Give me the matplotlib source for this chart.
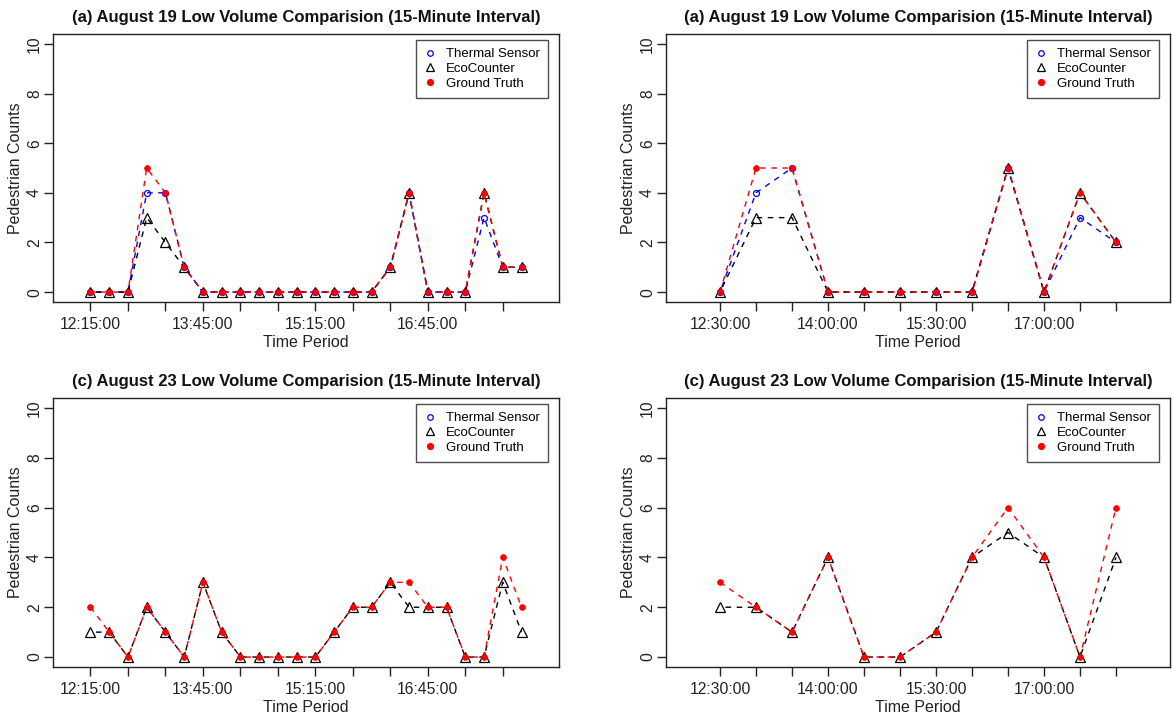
import matplotlib
matplotlib.use("Agg")
import matplotlib.pyplot as plt
from matplotlib.lines import Line2D

plt.rcParams['font.family'] = ['Liberation Sans', 'DejaVu Sans']

# ---------------- data ----------------
times_15min = ["12:15:00", "12:30:00", "12:45:00", "13:00:00", "13:15:00", "13:30:00",
               "13:45:00", "14:00:00", "14:15:00", "14:30:00", "14:45:00", "15:00:00",
               "15:15:00", "15:30:00", "15:45:00", "16:00:00", "16:15:00", "16:30:00",
               "16:45:00", "17:00:00", "17:15:00", "17:30:00", "17:45:00", "18:00:00"]
times_30min = ["12:30:00", "13:00:00", "13:30:00", "14:00:00", "14:30:00", "15:00:00",
               "15:30:00", "16:00:00", "16:30:00", "17:00:00", "17:30:00", "18:00:00"]

# (a) August 19, left panel
thermal_19a = [0, 0, 0, 4, 4, 1, 0, 0, 0, 0, 0, 0, 0, 0, 0, 0, 1, 4, 0, 0, 0, 3, 1, 1]
eco_19a     = [0, 0, 0, 3, 2, 1, 0, 0, 0, 0, 0, 0, 0, 0, 0, 0, 1, 4, 0, 0, 0, 4, 1, 1]
truth_19a   = [0, 0, 0, 5, 4, 1, 0, 0, 0, 0, 0, 0, 0, 0, 0, 0, 1, 4, 0, 0, 0, 4, 1, 1]

# (a) August 19, right panel
thermal_19b = [0, 4, 5, 0, 0, 0, 0, 0, 5, 0, 3, 2]
eco_19b     = [0, 3, 3, 0, 0, 0, 0, 0, 5, 0, 4, 2]
truth_19b   = [0, 5, 5, 0, 0, 0, 0, 0, 5, 0, 4, 2]

# (c) August 23, left panel (no thermal sensor values shown)
thermal_23a = []
eco_23a     = [1, 1, 0, 2, 1, 0, 3, 1, 0, 0, 0, 0, 0, 1, 2, 2, 3, 2, 2, 2, 0, 0, 3, 1]
truth_23a   = [2, 1, 0, 2, 1, 0, 3, 1, 0, 0, 0, 0, 0, 1, 2, 2, 3, 3, 2, 2, 0, 0, 4, 2]

# (c) August 23, right panel (no thermal sensor values shown)
thermal_23b = []
eco_23b     = [2, 2, 1, 4, 0, 0, 1, 4, 5, 4, 0, 4]
truth_23b   = [3, 2, 1, 4, 0, 0, 1, 4, 6, 4, 0, 6]

ticks_15min = ["12:15:00", "12:45:00", "13:15:00", "13:45:00", "14:15:00", "14:45:00",
               "15:15:00", "15:45:00", "16:15:00", "16:45:00", "17:15:00", "17:45:00"]
labels_15min = ["12:15:00", "13:45:00", "15:15:00", "16:45:00"]
ticks_30min = times_30min
labels_30min = ["12:30:00", "14:00:00", "15:30:00", "17:00:00"]

title_a = "(a) August 19 Low Volume Comparision (15-Minute Interval)"
title_c = "(c) August 23 Low Volume Comparision (15-Minute Interval)"
series_names = ["Thermal Sensor", "EcoCounter", "Ground Truth"]


def to_min(s):
    h, m, _ = s.split(":")
    return int(h) * 60 + int(m)


W, H = 1175, 717
fig = plt.figure(figsize=(W / 100, H / 100), dpi=100)


def add_ax(l, r, t, b):
    return fig.add_axes([l / W, 1 - b / H, (r - l) / W, (b - t) / H])


panels = [
    (add_ax(53, 559, 34, 302), times_15min, thermal_19a, eco_19a, truth_19a,
     ticks_15min, labels_15min, title_a, (705, 1110)),
    (add_ax(666, 1170, 34, 302), times_30min, thermal_19b, eco_19b, truth_19b,
     ticks_30min, labels_30min, title_a, (705, 1125)),
    (add_ax(53, 559, 398, 667), times_15min, thermal_23a, eco_23a, truth_23a,
     ticks_15min, labels_15min, title_c, (705, 1110)),
    (add_ax(666, 1170, 398, 667), times_30min, thermal_23b, eco_23b, truth_23b,
     ticks_30min, labels_30min, title_c, (705, 1125)),
]

dash_red = (0, (4.0, 4.0))
dash_other = (4.0, (4.0, 4.0))
for ax, times, th, eco, gt, ticks, labels, title, xl in panels:
    x = [to_min(t) for t in times]
    if len(th):
        ax.plot(x, th, color='blue', ls=dash_other, lw=1.0, marker='o', ms=4.3,
                mfc='none', mec='blue', mew=0.9, zorder=3)
    ax.plot(x, eco, color='black', ls=dash_other, lw=1.0, marker='^', ms=6.5,
            mfc='none', mec='black', mew=0.9, zorder=4)
    ax.plot(x, gt, color='red', ls=dash_red, lw=1.0, marker='o', ms=4.2,
            mfc='red', mec='red', mew=0.5, zorder=5)
    ax.set_xlim(*xl)
    ax.set_ylim(-0.4, 10.4)
    tx = [to_min(t) for t in ticks]
    ax.set_xticks(tx)
    ax.set_xticklabels([t if t in labels else "" for t in ticks])
    ax.set_yticks([0, 2, 4, 6, 8, 10])
    ax.tick_params(axis='both', direction='out', length=6.8, width=1.0,
                   labelsize=11.3, color='#222222', labelcolor='#222222')
    ax.tick_params(axis='x', pad=4.0)
    ax.tick_params(axis='y', pad=1.2)
    for lab in ax.get_yticklabels():
        lab.set_rotation(90)
        lab.set_va('center')
    for sp in ax.spines.values():
        sp.set_linewidth(1.0)
        sp.set_color('#222222')
    ax.set_xlabel("Time Period", fontsize=11.5, labelpad=2.5, color='#222222')
    ax.set_ylabel("Pedestrian Counts", fontsize=11.5, labelpad=2.5, color='#222222')
    ax.set_title(title, fontsize=12, fontweight='bold', pad=8.5, color='#111111')
    handles = [
        Line2D([], [], ls='none', marker='o', ms=4, mfc='none', mec='blue', mew=0.9),
        Line2D([], [], ls='none', marker='^', ms=6, mfc='none', mec='black', mew=0.9),
        Line2D([], [], ls='none', marker='o', ms=4.2, mfc='red', mec='red'),
    ]
    leg = ax.legend(handles, series_names, loc='upper right', fontsize=9.5,
                    frameon=True, fancybox=False, borderpad=0.6,
                    labelspacing=0.2, handlelength=1.0, handletextpad=0.7,
                    borderaxespad=0.0, bbox_to_anchor=(1 - 11 / 506, 1 - 6 / 268))
    leg.get_frame().set_edgecolor('#222222')
    leg.get_frame().set_linewidth(1.0)

fig.savefig("out.png", dpi=100)
